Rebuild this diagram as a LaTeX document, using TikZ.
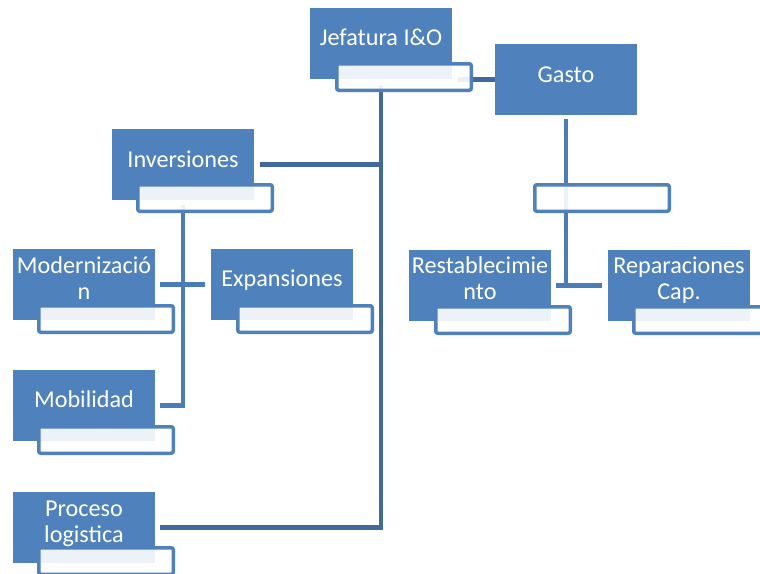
\documentclass[tikz,border=0pt]{standalone}
\usepackage{fontspec}
\setmainfont{Carlito}
\definecolor{boxblue}{HTML}{4F81BD}
\definecolor{linkdark}{HTML}{3F6A9A}
\definecolor{linklight}{HTML}{4A7CB8}
\tikzset{
  unit/.style={fill=boxblue, minimum width=142pt, minimum height=71pt,
    inner sep=0pt, outer sep=0pt, anchor=north west},
  tab/.style={draw=boxblue, line width=3.5pt, fill=white, fill opacity=0.9,
    rounded corners=2pt, minimum width=134.5pt, minimum height=26.5pt,
    inner sep=0pt, outer sep=0pt, anchor=north west},
  boxtext/.style={text=white, font=\fontsize{24.2pt}{26.8pt}\selectfont,
    anchor=base, inner sep=0pt},
  link1/.style={draw=linkdark, line width=4.5pt},
  link2/.style={draw=linklight, line width=4.5pt},
}
\newcommand{\twolines}[2]{\begin{tabular}[t]{@{}c@{}}#1\\#2\end{tabular}}
\begin{document}
\begin{tikzpicture}[x=1pt,y=-1pt]
\useasboundingbox (0,0) rectangle (760,573);

% blue unit boxes
\node[unit] (J)    at (310,8)   {};
\node[unit] (G)    at (495,44)  {};
\node[unit] (Inv)  at (112,129) {};
\node[unit] (Mod)  at (13,249)  {};
\node[unit] (Exp)  at (211,249) {};
\node[unit] (Mob)  at (13,370)  {};
\node[unit] (Proc) at (13,492)  {};
\node[unit] (Rest) at (409,250) {};
\node[unit] (Rep)  at (608,250) {};

% connectors
\draw[link1, shorten <=6pt] (J.south) -- (J.south |- Proc.east) -- ([xshift=5pt]Proc.east);
\draw[link1] ([xshift=6pt]Inv.east) -- (Inv.east -| J.south);
\draw[link1] ([xshift=6pt]J.east |- G.west) -- (G.west);
\draw[link2, shorten <=4pt] (G.south) -- (G.south |- Rest.east);
\draw[link2] ([xshift=5pt]Rest.east) -- ([xshift=-6pt]Rep.west);
\draw[link2, shorten <=5pt] (Inv.south) -- (Inv.south |- Mob.east) -- ([xshift=5pt]Mob.east);
\draw[link2] ([xshift=5pt]Mod.east) -- ([xshift=-6pt]Exp.west);

% white tabs under the boxes
\node[tab] (Jtab)    at (336.75,63.75)  {};
\node[tab] (Gtab)    at (534.75,184.75) {};
\node[tab] (Invtab)  at (137.75,184.75) {};
\node[tab] (Modtab)  at (38.75,305.75)  {};
\node[tab] (Exptab)  at (237.75,305.75) {};
\node[tab] (Mobtab)  at (38.75,426.75)  {};
\node[tab] (Proctab) at (38.75,547.75)  {};
\node[tab] (Resttab) at (435.75,306.75) {};
\node[tab] (Reptab)  at (633.75,306.75) {};

% labels
\node[boxtext] (Jt)    at (381,45)  {Jefatura I\&O};
\node[boxtext] (Gt)    at (566,82)  {Gasto};
\node[boxtext] (Invt)  at (183,167) {Inversiones};
\node[boxtext] (Modt)  at (84,273)  {\twolines{Modernizació}{n}};
\node[boxtext] (Expt)  at (282,286) {Expansiones};
\node[boxtext] (Mobt)  at (84,407)  {Mobilidad};
\node[boxtext] (Proct) at (84,516)  {\twolines{Proceso}{logistica}};
\node[boxtext] (Restt) at (480,273) {\twolines{Restablecimie}{nto}};
\node[boxtext] (Rept)  at (679,273) {\twolines{Reparaciones}{Cap.}};
\end{tikzpicture}
\end{document}
